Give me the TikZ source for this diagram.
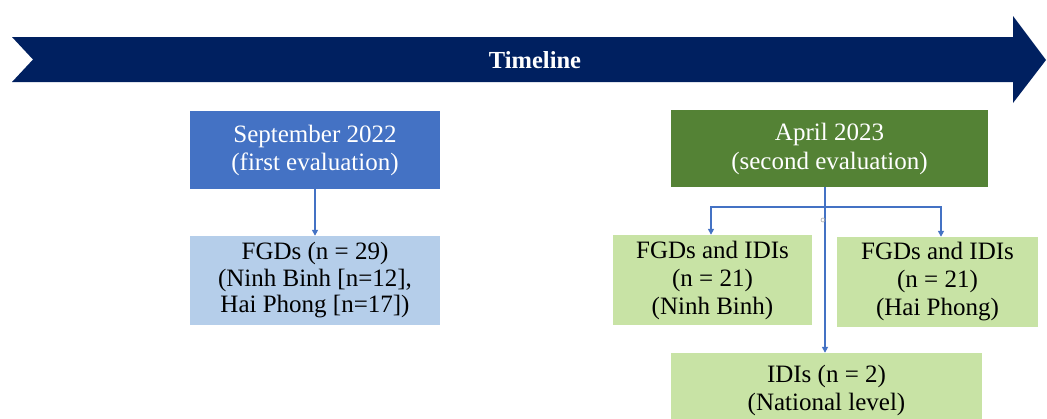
\documentclass[tikz,border=0pt]{standalone}
\usepackage{fontspec}
\setmainfont{Liberation Serif}
\usetikzlibrary{arrows.meta}
\definecolor{navy}{HTML}{002060}
\definecolor{midblue}{HTML}{4472C4}
\definecolor{paleblue}{RGB}{181,206,234}
\definecolor{darkgreen}{HTML}{548235}
\definecolor{palegreen}{RGB}{200,227,165}
\definecolor{linkblue}{HTML}{4472C4}
\tikzset{
  box/.style={rectangle, inner sep=0pt, align=center, font=\fontsize{25}{28}\selectfont},
  darkbox/.style={box, text=white},
  lightbox/.style={box, text=black},
  link/.style={draw=linkblue, line width=1.6pt, -{Triangle[length=6pt,width=6pt]}},
}
\begin{document}
\begin{tikzpicture}[x=1pt,y=-1pt]
\useasboundingbox (0,0) rectangle (1047,418);
% timeline arrow
\fill[navy] (12,37) -- (1013,37) -- (1013,16) -- (1046,60) -- (1013,103) -- (1013,82) -- (12,82) -- (33,59.5) -- cycle;
\node[font=\fontsize{24.5}{28}\selectfont\bfseries, text=white] (tl) at (535,60) {Timeline};
% first evaluation
\node[darkbox, fill=midblue, minimum width=250pt, minimum height=78pt] (sep) at (315,150) {September 2022\\(first evaluation)};
\node[lightbox, fill=paleblue, minimum width=250pt, minimum height=89pt, font=\fontsize{25}{26.5}\selectfont] (fgd) at (315,280.5) {FGDs (n = 29)\\(Ninh Binh [n=12],\\Hai Phong [n=17])};
\draw[link] (sep.south) -- (fgd.north);
% second evaluation
\node[darkbox, fill=darkgreen, minimum width=317pt, minimum height=77pt, font=\fontsize{25}{29}\selectfont] (apr) at (829.5,148.5) {April 2023\\(second evaluation)};
\node[lightbox, fill=palegreen, minimum width=199pt, minimum height=90pt] (nb) at (712.5,280) {FGDs and IDIs\\(n = 21)\\(Ninh Binh)};
\node[lightbox, fill=palegreen, minimum width=201pt, minimum height=90pt] (hp) at (937.5,282) {FGDs and IDIs\\(n = 21)\\(Hai Phong)};
\node[lightbox, fill=palegreen, minimum width=311pt, minimum height=75pt] (idi) at (826.5,390.5) {IDIs (n = 2)\\(National level)};
\coordinate (junc) at (825,207);
\coordinate (lbend) at (711,207);
\coordinate (rbend) at (941,207);
\draw[link] (junc |- apr.south) -- (junc |- idi.north);
\draw[link] (junc) -- (lbend) -- (lbend |- nb.north);
\draw[link] (junc) -- (rbend) -- (rbend |- hp.north);
\node[circle, draw=gray!70, line width=0.6pt, inner sep=0pt, minimum size=4pt] (mark) at (823,220) {};
\end{tikzpicture}
\end{document}
